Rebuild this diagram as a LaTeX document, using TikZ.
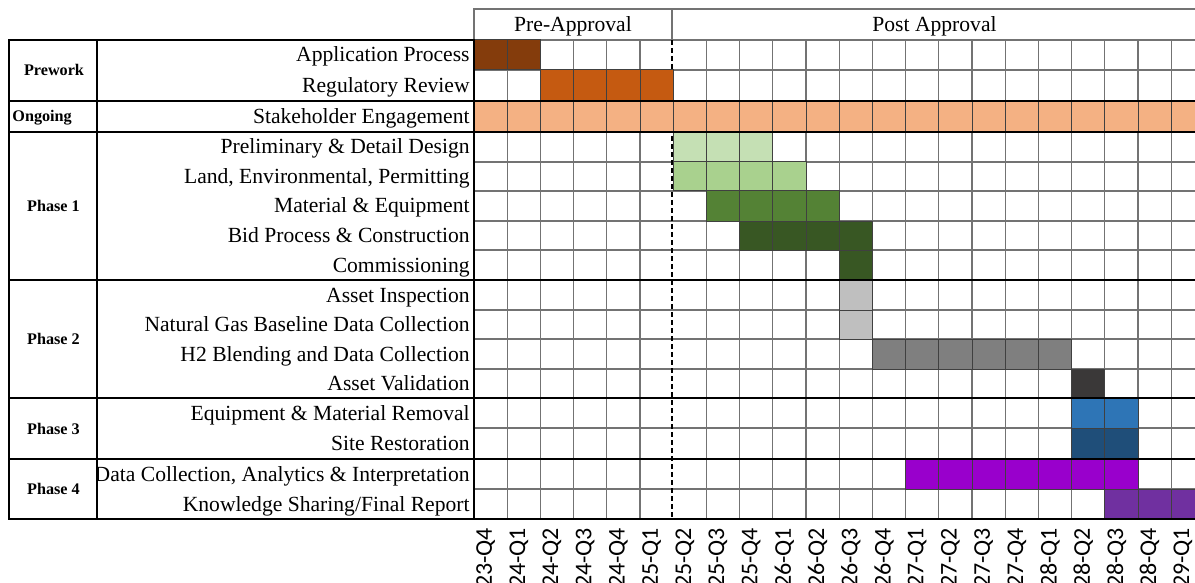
\documentclass[tikz,border=0pt]{standalone}
\usepackage{fontspec}
\setmainfont{Liberation Serif}
\newfontfamily\quarterfont{Carlito}
\usepackage{tikz}
\definecolor{appbrown}{HTML}{843C0C}
\definecolor{regorange}{HTML}{C55A11}
\definecolor{stkpeach}{HTML}{F4B183}
\definecolor{greenA}{HTML}{C5E0B4}
\definecolor{greenB}{HTML}{A9D18E}
\definecolor{greenC}{HTML}{548235}
\definecolor{greenD}{HTML}{385723}
\definecolor{greyA}{HTML}{BFBFBF}
\definecolor{greyB}{HTML}{7F7F7F}
\definecolor{greyC}{HTML}{3A3838}
\definecolor{blueA}{HTML}{2E75B6}
\definecolor{blueB}{HTML}{1F4E79}
\definecolor{purpleA}{HTML}{9900CC}
\definecolor{purpleB}{HTML}{7030A0}
\tikzset{
    task/.style={anchor=base east, inner sep=0pt, font=\fontsize{10.8}{12}\selectfont},
    head/.style={anchor=base, inner sep=0pt, font=\fontsize{10.8}{12}\selectfont},
    phase/.style={anchor=base, inner sep=0pt, font=\fontsize{8.1}{10}\selectfont\bfseries},
    quarter/.style={rotate=90, anchor=east, inner sep=0pt,
    	font=\quarterfont\fontsize{12}{13}\selectfont}
}
\tikzset{
    gridline/.style={line width=0.6pt, draw=black!55},
    heavy/.style={line width=1.1pt, draw=black},
    cell/.style={line width=0.5pt, draw=black!75},
    approval/.style={line width=0.8pt, draw=black, dash pattern=on 2.5pt off 1.5pt}
}
% top, bottom, first column, last column, colour
\newcommand{\ganttrow}[5]{%
	\foreach \c in {#3,...,#4}
		\filldraw [cell, fill=#5] ({474+33.2*\c},#1) rectangle ({507.2+33.2*\c},#2);
}

\begin{document}
\begin{tikzpicture}[x=0.5pt, y=-0.5pt]
	\useasboundingbox (0,0) rectangle (1195,583);
	\clip (0,0) rectangle (1195,583);

	\draw [gridline] (474,40) -- (474,9) -- (1210,9);
	\draw [gridline] (672,9) -- (672,40);
	\node (pre) [head] at (573,31.5) {Pre-Approval};
	\node (post) [head] at (934.5,31.5) {Post Approval};

	\foreach \i in {0,...,5}
		\draw [gridline] ({474+33.2*\i},40) -- ({474+33.2*\i},519);
	\foreach \i in {7,...,22}
		\draw [gridline] ({474+33.2*\i},40) -- ({474+33.2*\i},519);
	\foreach \y in {40,70,162,191,221,250,310,339,369,428,489}
		\draw [gridline] (474,\y) -- (1210,\y);
	\draw [approval] (672.2,40) -- (672.2,519);

	\ganttrow{40}{70}{0}{1}{appbrown}
	\ganttrow{70}{101}{2}{5}{regorange}
	\ganttrow{101}{132}{0}{21}{stkpeach}
	\ganttrow{132}{162}{6}{8}{greenA}
	\ganttrow{162}{191}{6}{9}{greenB}
	\ganttrow{191}{221}{7}{10}{greenC}
	\ganttrow{221}{250}{8}{11}{greenD}
	\ganttrow{250}{280}{11}{11}{greenD}
	\ganttrow{280}{310}{11}{11}{greyA}
	\ganttrow{310}{339}{11}{11}{greyA}
	\ganttrow{339}{369}{12}{17}{greyB}
	\ganttrow{369}{398}{18}{18}{greyC}
	\ganttrow{398}{428}{18}{19}{blueA}
	\ganttrow{428}{459}{18}{19}{blueB}
	\ganttrow{459}{489}{13}{19}{purpleA}
	\ganttrow{489}{519}{19}{21}{purpleB}

	\begin{scope}
		\clip (97,40) rectangle (474,519);
		\node (t1) [task] at (470,62) {Application Process};
		\node (t2) [task] at (470,92.5) {Regulatory Review};
		\node (t3) [task] at (470,123.5) {Stakeholder Engagement};
		\node (t4) [task] at (470,154) {Preliminary \& Detail Design};
		\node (t5) [task] at (470,183.5) {Land, Environmental, Permitting};
		\node (t6) [task] at (470,213) {Material \& Equipment};
		\node (t7) [task] at (470,242.5) {Bid Process \& Construction};
		\node (t8) [task] at (470,272) {Commissioning};
		\node (t9) [task] at (470,302) {Asset Inspection\ };
		\node (t10) [task] at (470,331.5) {Natural Gas Baseline Data Collection};
		\node (t11) [task] at (470,361) {H2 Blending and Data Collection};
		\node (t12) [task] at (470,390.5) {Asset Validation};
		\node (t13) [task] at (470,420) {Equipment \& Material Removal\ };
		\node (t14) [task] at (470,450.5) {Site Restoration};
		\node (t15) [task] at (470,481) {Data Collection, Analytics \& Interpretation};
		\node (t16) [task] at (470,511) {Knowledge Sharing/Final Report};
	\end{scope}

	\node (p0) [phase] at (54,76) {Prework};
	\node (p1) [phase, anchor=base west] at (12,122) {Ongoing};
	\node (p2) [phase] at (53.5,211.5) {Phase 1};
	\node (p3) [phase] at (53.5,344.5) {Phase 2};
	\node (p4) [phase] at (53.5,434) {Phase 3};
	\node (p5) [phase] at (53.5,494.5) {Phase 4};

	\draw [heavy] (9,40) rectangle (474,519);
	\draw [heavy] (97,40) -- (97,519);
	\foreach \y in {101,132,280,398,459}
		\draw [heavy] (9,\y) -- (1210,\y);
	\draw [heavy] (474,519) -- (1210,519);

	\foreach \q [count=\i from 0] in {23-Q4,24-Q1,24-Q2,24-Q3,24-Q4,25-Q1,25-Q2,25-Q3,
		25-Q4,26-Q1,26-Q2,26-Q3,26-Q4,27-Q1,27-Q2,27-Q3,27-Q4,28-Q1,28-Q2,28-Q3,28-Q4,29-Q1}
		\node (q\i) [quarter] at ({485.6+33.2*\i},527.5) {\q};
\end{tikzpicture}
\end{document}
